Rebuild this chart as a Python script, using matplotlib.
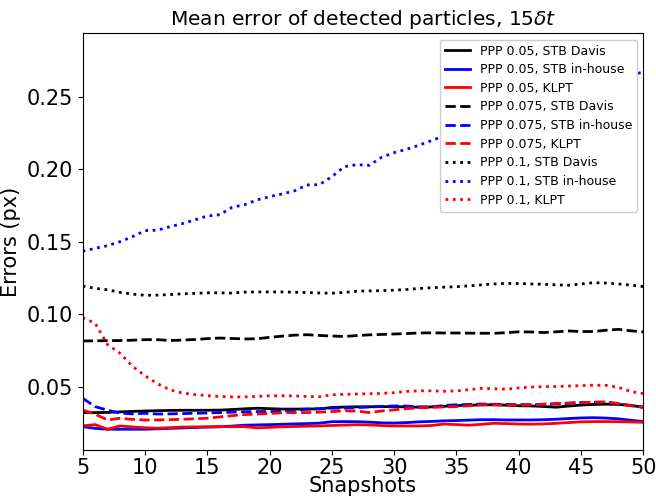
import numpy as np
import matplotlib
matplotlib.use("Agg")
import matplotlib.pyplot as plt

snapshots = list(range(5, 51))

ppp005_davis = [.0321, .0321, .0322, .0326, .0329, .0332, .0334, .0336, .0337, .0337, .0337, .0338, .0342, .0347, .0351, .0348, .0345, .0345, .0346, .0346, .0356, .0359, .0361, .0361, .0362, .0362, .0360, .0358, .0360, .0364, .0369, .0372, .0374, .0375, .0372, .0368, .0367, .0363, .0358, .0366, .0373, .0377, .0379, .0377, .0370, .0358]
ppp005_inhouse = [.0224, .0212, .0206, .0206, .0206, .0206, .0209, .0212, .0215, .0218, .0221, .0223, .0228, .0234, .0236, .0238, .0240, .0243, .0245, .0248, .0258, .0259, .0258, .0255, .0250, .0249, .0252, .0257, .0260, .0264, .0266, .0269, .0272, .0272, .0270, .0270, .0270, .0272, .0275, .0280, .0284, .0286, .0283, .0278, .0268, .0259]
ppp005_klpt = [.0229, .0238, .0206, .0229, .0222, .0216, .0213, .0217, .0221, .0222, .0223, .0224, .0224, .0224, .0216, .0219, .0223, .0225, .0227, .0229, .0232, .0235, .0237, .0236, .0231, .0229, .0229, .0229, .0232, .0242, .0238, .0234, .0240, .0247, .0245, .0242, .0241, .0243, .0247, .0252, .0257, .0259, .0259, .0258, .0256, .0254]

ppp0075_davis = [.0815, .0816, .0817, .0818, .0820, .0824, .0824, .0818, .0821, .0825, .0831, .0835, .0832, .0829, .0830, .0840, .0848, .0855, .0858, .0853, .0849, .0846, .0852, .0857, .0860, .0863, .0866, .0870, .0871, .0870, .0870, .0869, .0868, .0868, .0872, .0878, .0877, .0873, .0878, .0884, .0880, .0880, .0889, .0895, .0885, .0877]
ppp0075_inhouse = [.0420, .0362, .0338, .0317, .0312, .0316, .0311, .0312, .0314, .0316, .0318, .0321, .0324, .0327, .0328, .0328, .0330, .0336, .0344, .0348, .0351, .0352, .0355, .0360, .0363, .0367, .0366, .0360, .0360, .0370, .0375, .0377, .0380, .0378, .0377, .0376, .0376, .0378, .0380, .0385, .0391, .0392, .0391, .0382, .0370, .0358]
ppp0075_klpt = [.0339, .0310, .0270, .0282, .0274, .0270, .0270, .0272, .0275, .0278, .0282, .0291, .0300, .0307, .0311, .0315, .0320, .0321, .0321, .0324, .0328, .0333, .0332, .0321, .0332, .0340, .0348, .0354, .0357, .0360, .0362, .0368, .0375, .0374, .0372, .0373, .0375, .0379, .0384, .0387, .0389, .0393, .0395, .0383, .0368, .0358]

ppp01_davis = [.1194, .1178, .1168, .1150, .1138, .1130, .1131, .1135, .1140, .1143, .1147, .1147, .1145, .1152, .1153, .1153, .1153, .1151, .1149, .1146, .1144, .1150, .1158, .1160, .1162, .1165, .1170, .1177, .1182, .1186, .1189, .1195, .1202, .1208, .1212, .1211, .1208, .1206, .1202, .1199, .1208, .1217, .1214, .1208, .1200, .1190]
ppp01_inhouse = [.1434, .1454, .1472, .1500, .1534, .1576, .1579, .1603, .1624, .1650, .1677, .1686, .1737, .1755, .1788, .1810, .1829, .1850, .1891, .1893, .1948, .2017, .2031, .2026, .2082, .2114, .2137, .2165, .2197, .2229, .2255, .2280, .2305, .2330, .2355, .2380, .2405, .2430, .2455, .2480, .2510, .2540, .2570, .2600, .2650, .2670]
ppp01_klpt = [.0976, .0937, .0790, .0730, .0640, .0575, .0520, .0478, .0456, .0445, .0438, .0432, .0429, .0429, .0432, .0437, .0437, .0436, .0432, .0430, .0444, .0447, .0449, .0451, .0453, .0458, .0467, .0471, .0471, .0468, .0470, .0479, .0488, .0485, .0482, .0491, .0497, .0500, .0501, .0504, .0507, .0510, .0509, .0495, .0466, .0452]

series = [
    (ppp005_davis, "k", "-", "PPP 0.05, STB Davis"),
    (ppp005_inhouse, "b", "-", "PPP 0.05, STB in-house"),
    (ppp005_klpt, "r", "-", "PPP 0.05, KLPT"),
    (ppp0075_davis, "k", "--", "PPP 0.075, STB Davis"),
    (ppp0075_inhouse, "b", "--", "PPP 0.075, STB in-house"),
    (ppp0075_klpt, "r", "--", "PPP 0.075, KLPT"),
    (ppp01_davis, "k", ":", "PPP 0.1, STB Davis"),
    (ppp01_inhouse, "b", ":", "PPP 0.1, STB in-house"),
    (ppp01_klpt, "r", ":", "PPP 0.1, KLPT"),
]

fig = plt.figure(figsize=(6.56, 4.97), dpi=100)
ax = fig.add_axes([0.126, 0.0946, 0.8547, 0.8384])
for vals, c, ls, lab in series:
    ax.plot(snapshots, vals, color=c, linestyle=ls, linewidth=2, label=lab)

ax.set_xlim(5, 50)
ax.set_ylim(0.0063, 0.2937)
ax.set_yticks([0.05, 0.10, 0.15, 0.20, 0.25])
ax.set_xticks([5, 10, 15, 20, 25, 30, 35, 40, 45, 50])
ax.tick_params(labelsize=15)
ax.tick_params(axis="x", pad=2)
ax.set_xlabel("Snapshots", fontsize=15, labelpad=-1)
ax.set_ylabel("Errors (px)", fontsize=15)
ax.set_title(r"Mean error of detected particles, 15$\delta t$", fontsize=14.5)
ax.legend(loc="upper right", fontsize=9, framealpha=1, labelspacing=0.45)

fig.savefig("out.png", dpi=100)
